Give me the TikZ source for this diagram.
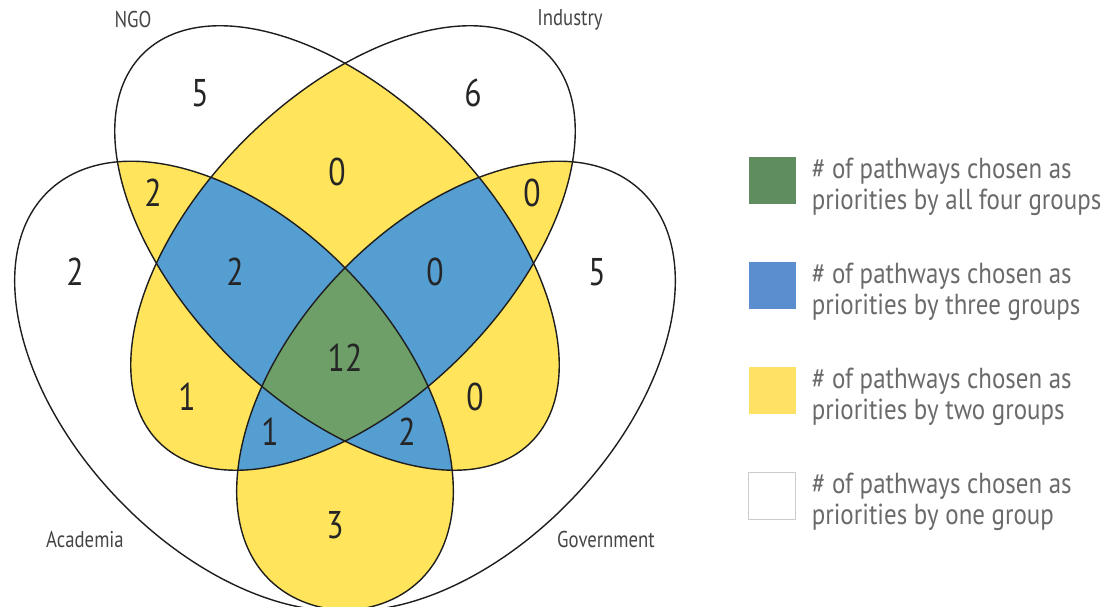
\documentclass[tikz,border=0pt]{standalone}
\usepackage{fontspec}
\setmainfont[FakeStretch=0.82]{PT Sans}
\newfontfamily\keyfont[FakeStretch=0.86]{PT Sans}
\usepackage{tikz}
\usetikzlibrary{positioning}

\definecolor{venngreen}{HTML}{6E9F68}
\definecolor{vennblue}{HTML}{559ED2}
\definecolor{vennyellow}{HTML}{FFE45C}
\definecolor{keygreen}{HTML}{5F8D5F}
\definecolor{keyblue}{HTML}{5B8ECF}
\definecolor{keyyellow}{HTML}{FFE166}
\definecolor{inkline}{HTML}{1E1E1E}
\definecolor{inkdark}{HTML}{252525}
\definecolor{inkgrey}{HTML}{454545}
\definecolor{keygrey}{HTML}{6A6A6A}

% the four groups as ellipses (pixel units, y down)
\newcommand{\ngoshape}[1][]{\path[#1, shift={(337,248)}, rotate=-45] (0,0) ellipse [x radius=274.5, y radius=153];}
\newcommand{\industryshape}[1][]{\path[#1, shift={(353,248)}, rotate=45] (0,0) ellipse [x radius=274.5, y radius=153];}
\newcommand{\academiashape}[1][]{\path[#1, shift={(234,386)}, rotate=-46.5] (0,0) ellipse [x radius=269, y radius=162];}
\newcommand{\governmentshape}[1][]{\path[#1, shift={(456,386)}, rotate=46.5] (0,0) ellipse [x radius=269, y radius=162];}

\begin{document}
\begin{tikzpicture}[
    x=0.02cm, y=-0.02cm,
    outline/.style={draw=inkline, line width=0.8pt},
    count/.style={font=\fontsize{22}{24}\selectfont, text=inkdark},
    group/.style={font=\fontsize{13}{15}\selectfont, text=inkgrey},
    swatch/.style={minimum size=0.94cm, inner sep=0pt, outer sep=0pt},
    keytext/.style={font=\keyfont\fontsize{16.5}{17.6}\selectfont, text=keygrey, align=left, anchor=west, inner sep=0pt}
]
    \useasboundingbox (0,0) rectangle (1113,607);

    % two groups
    \begin{scope}\ngoshape[clip]\industryshape[fill=vennyellow]\end{scope}
    \begin{scope}\ngoshape[clip]\academiashape[fill=vennyellow]\end{scope}
    \begin{scope}\ngoshape[clip]\governmentshape[fill=vennyellow]\end{scope}
    \begin{scope}\industryshape[clip]\academiashape[fill=vennyellow]\end{scope}
    \begin{scope}\industryshape[clip]\governmentshape[fill=vennyellow]\end{scope}
    \begin{scope}\academiashape[clip]\governmentshape[fill=vennyellow]\end{scope}

    % three groups
    \begin{scope}\ngoshape[clip]\industryshape[clip]\academiashape[fill=vennblue]\end{scope}
    \begin{scope}\ngoshape[clip]\industryshape[clip]\governmentshape[fill=vennblue]\end{scope}
    \begin{scope}\ngoshape[clip]\academiashape[clip]\governmentshape[fill=vennblue]\end{scope}
    \begin{scope}\industryshape[clip]\academiashape[clip]\governmentshape[fill=vennblue]\end{scope}

    % all four
    \begin{scope}\ngoshape[clip]\industryshape[clip]\academiashape[clip]\governmentshape[fill=venngreen]\end{scope}

    % outlines
    \ngoshape[outline]
    \industryshape[outline]
    \academiashape[outline]
    \governmentshape[outline]

    % group names
    \node[group] (ngo) at (133,20) {NGO};
    \node[group] (industry) at (570,20) {Industry};
    \node[group] (academia) at (85,540) {Academia};
    \node[group] (government) at (606,540) {Government};

    % counts
    \node[count] (n) at (200,93) {5};
    \node[count] (i) at (473,93) {6};
    \node[count] (ni) at (337,172) {0};
    \node[count] (na) at (153,193) {2};
    \node[count] (ig) at (532,193) {0};
    \node[count] (a) at (75,272) {2};
    \node[count] (nia) at (235,272) {2};
    \node[count] (nig) at (435,272) {0};
    \node[count] (g) at (597,272) {5};
    \node[count] (niag) at (345,358) {12};
    \node[count] (ia) at (187,397) {1};
    \node[count] (ng) at (475,397) {0};
    \node[count] (iag) at (270,432) {1};
    \node[count] (nag) at (407,432) {2};
    \node[count] (ag) at (335,525) {3};

    % key
    \node[swatch, fill=keygreen] (keyfour) at (772,181) {};
    \node[swatch, fill=keyblue, below=1.16cm of keyfour] (keythree) {};
    \node[swatch, fill=keyyellow, below=1.16cm of keythree] (keytwo) {};
    \node[swatch, fill=white, draw=black!20, line width=0.6pt, below=1.16cm of keytwo] (keyone) {};
    \node[keytext, right=0.32cm of keyfour, yshift=-0.12cm] (keyfourtext) {\# of pathways chosen as\\priorities by all four groups};
    \node[keytext, right=0.32cm of keythree, yshift=-0.12cm] (keythreetext) {\# of pathways chosen as\\priorities by three groups};
    \node[keytext, right=0.32cm of keytwo, yshift=-0.12cm] (keytwotext) {\# of pathways chosen as\\priorities by two groups};
    \node[keytext, right=0.32cm of keyone, yshift=-0.12cm] (keyonetext) {\# of pathways chosen as\\priorities by one group};
\end{tikzpicture}
\end{document}
